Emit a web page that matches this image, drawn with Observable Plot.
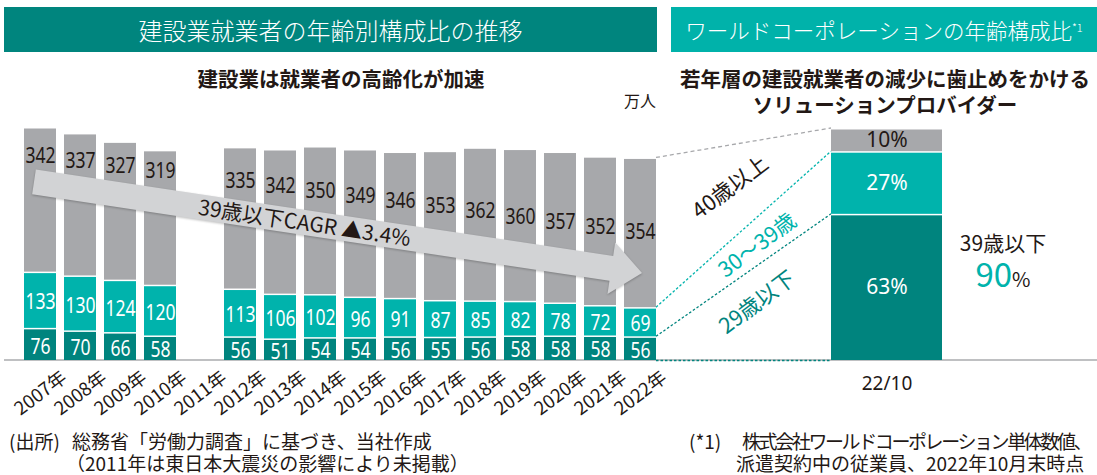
<!DOCTYPE html>
<html><head><meta charset="utf-8">
<script src="https://cdn.jsdelivr.net/npm/d3@7"></script>
<script src="https://cdn.jsdelivr.net/npm/@observablehq/plot@0.6"></script>
<style>
html,body{margin:0;padding:0;background:#fff;}
#root{position:relative;width:1097px;height:475px;overflow:hidden;font-family:"Noto Sans CJK JP","Noto Sans",sans-serif;color:#231815;}
.a{position:absolute;white-space:nowrap;}
.hdr{position:absolute;top:7px;height:45px;color:#fff;display:flex;align-items:center;justify-content:center;white-space:nowrap;font-weight:300;}
svg{overflow:visible;}
</style></head><body><div id="root"></div>
<script>
// ---------- data ----------
const years = ["2007年","2008年","2009年","2010年","2011年","2012年","2013年","2014年","2015年","2016年","2017年","2018年","2019年","2020年","2021年","2022年"];
const under29   = [76, 70, 66, 58, null, 56, 51, 54, 54, 56, 55, 56, 58, 58, 58, 56];
const age30to39 = [133,130,124,120,null,113,106,102,96, 91, 87, 85, 82, 78, 72, 69];
const over40    = [342,337,327,319,null,335,342,350,349,346,353,362,360,357,352,354];
const groups = ["29歳以下","30〜39歳","40歳以上"];
const wcCategory = ["22/10"];
const wcShares = [63, 27, 10];
const wcYoungTotal = 90;
const cagrText = "39歳以下CAGR ▲3.4%";
const unitText = "万人";

// ---------- style ----------
const C_DARK = "#00847E", C_TEAL = "#00B3AC", C_GRAY = "#A7A8AB", C_TEXT = "#231815", C_ARROW = "#D2D3D5";
const colorRange = [C_DARK, C_TEAL, C_GRAY];
const arrowFrom = 421, arrowTo = 206;      // arrow centre line (in 万人 units) at 2007 / 2022
const grayLabelFrom = 485, grayLabelTo = 305; // gray labels run parallel above the arrow

const root = document.getElementById("root");
function div(cls, style, html){const d=document.createElement("div");d.className=cls;d.setAttribute("style",style);d.innerHTML=html;root.appendChild(d);return d;}

// headers & texts
div("hdr","left:4px;width:653px;background:#00857E;font-size:24px;","建設業就業者の年齢別構成比の推移");
div("hdr","left:671px;width:426px;background:#00B2AA;font-size:21.5px;","ワールドコーポレーションの年齢構成比<sup style='font-size:11px;position:relative;top:-3px;'>*1</sup>");
div("a","left:0;width:682px;top:67px;text-align:center;font-size:20.5px;font-weight:700;line-height:22px;","建設業は就業者の高齢化が加速");
div("a","left:673px;width:424px;top:67px;text-align:center;font-size:20.5px;font-weight:700;line-height:22px;","若年層の建設就業者の減少に歯止めをかける");
div("a","left:673px;width:424px;top:92.5px;text-align:center;font-size:20.5px;font-weight:700;line-height:22px;","ソリューションプロバイダー");
div("a","left:624px;top:90px;font-size:16px;line-height:20px;",unitText);
div("a","left:4px;top:359px;width:1093px;height:2px;background:#BFC0C2;","");
div("a","left:9px;top:430.5px;font-size:19px;line-height:20px;","(出所)");
div("a","left:72px;top:430.5px;font-size:19px;line-height:20px;","総務省「労働力調査」に基づき、当社作成");
div("a","left:66px;top:453px;font-size:19px;line-height:20px;","（2011年は東日本大震災の影響により未掲載）");
div("a","left:689px;top:430.5px;font-size:19px;line-height:20px;","(*1)");
div("a","left:742px;top:430.5px;font-size:19px;line-height:20px;letter-spacing:-2.4px;","株式会社ワールドコーポレーション単体数値、");
div("a","left:736px;top:453px;font-size:19px;line-height:20px;","派遣契約中の従業員、2022年10月末時点");
div("a","left:943px;width:120px;top:230px;text-align:center;font-size:21px;line-height:24px;","39歳以下");
div("a","left:943px;width:120px;top:257px;text-align:center;line-height:32px;",`<span style="font-size:33px;color:${C_TEAL};">${wcYoungTotal}</span><span style="font-size:20px;">%</span>`);

// ---------- left chart ----------
const rows = [];
years.forEach((yr,i)=>{
  if (under29[i]==null) return;
  rows.push({year:yr, group:groups[0], value:under29[i], i});
  rows.push({year:yr, group:groups[1], value:age30to39[i], i});
  rows.push({year:yr, group:groups[2], value:over40[i], i});
});
const grayRows = rows.filter(d=>d.group===groups[2]);
const n = years.length - 1;
const numFont = "'Noto Sans', sans-serif";

const left = Plot.plot({
  width: 681, height: 475,
  marginLeft: 11, marginRight: 11, marginTop: 127, marginBottom: 115,
  style: {fontFamily: "'Noto Sans CJK JP', 'Noto Sans', sans-serif", color: C_TEXT, background: "transparent"},
  x: {domain: years, padding: 0.19, label: null},
  y: {domain: [0, 551], axis: null},
  color: {domain: groups, range: colorRange},
  marks: [
    Plot.barY(rows, {x:"year", y:"value", fill:"group", insetTop: 1.5}),
    Plot.text(rows, Plot.stackY({x:"year", y:"value", z:"group", text:"value", fill:"white", fontSize: 22.5,
      fontFamily: numFont, filter: d => d.group !== groups[2], dy: 2})),
    Plot.text(grayRows, {x:"year", y: d => grayLabelFrom + (grayLabelTo-grayLabelFrom)*d.i/n, text:"value",
      fill: C_TEXT, fontSize: 22.5, fontFamily: numFont}),
    Plot.axisX({tickSize: 0, tickRotate: -37, fontSize: 18.5, tickPadding: 15, dx: 24, label: null, fill: C_TEXT})
  ]
});
left.style.position = "absolute"; left.style.left = "0px"; left.style.top = "0px";
root.appendChild(left);

// condense numeric labels (narrow digits as in the reference)
left.querySelectorAll('g[aria-label="text"] text').forEach(t=>{
  const w = t.getComputedTextLength();
  if (w > 0) { t.setAttribute("textLength", (w*0.78).toFixed(2)); t.setAttribute("lengthAdjust","spacingAndGlyphs"); }
});

const lx = left.scale("x"), ly = left.scale("y");
// arrow
{
  const bw = lx.bandwidth;
  const x0 = lx.apply(years[0]) + 10, y0 = ly.apply(arrowFrom);
  const x1 = lx.apply(years[n]) + bw/2 + 2, y1 = ly.apply(arrowTo);
  const dx = x1-x0, dy = y1-y0, L = Math.hypot(dx,dy), ux = dx/L, uy = dy/L, nx = -uy, ny = ux;
  const hl = 31, sh = 12.5, hh = 26;
  const bx = x1-ux*hl, by = y1-uy*hl;
  const pts = [[x0+nx*sh,y0+ny*sh],[bx+nx*sh,by+ny*sh],[bx+nx*hh,by+ny*hh],[x1,y1],[bx-nx*hh,by-ny*hh],[bx-nx*sh,by-ny*sh],[x0-nx*sh,y0-ny*sh]];
  const g = d3.select(left).append("g");
  g.append("polygon").attr("points", pts.map(p=>p.join(",")).join(" ")).attr("fill", C_ARROW)
    .attr("style","filter:drop-shadow(0px 1px 1px rgba(0,0,0,0.25))");
  const t = 0.445, cx = x0+dx*t, cy = y0+dy*t;
  const ang = Math.atan2(dy,dx)*180/Math.PI;
  g.append("text").attr("transform",`translate(${cx},${cy}) rotate(${ang})`).attr("text-anchor","middle")
    .attr("dy","0.38em").attr("font-size",21).attr("fill",C_TEXT)
    .attr("font-family","'Noto Sans CJK JP', sans-serif").text(cagrText);
}

// ---------- right chart ----------
const wcRows = groups.map((g,i)=>({cat: wcCategory[0], group:g, value: wcShares[i]}));
const right = Plot.plot({
  width: 151, height: 475,
  marginLeft: 20, marginRight: 20, marginTop: 128, marginBottom: 115,
  style: {fontFamily: "'Noto Sans CJK JP', 'Noto Sans', sans-serif", color: C_TEXT, background: "transparent"},
  x: {domain: wcCategory, padding: 0, label: null},
  y: {domain: [0, 100], axis: null},
  color: {domain: groups, range: colorRange},
  marks: [
    Plot.barY(wcRows, {x:"cat", y:"value", fill:"group", insetTop: 1.5}),
    Plot.text(wcRows, Plot.stackY({x:"cat", y:"value", z:"group", text: d=>d.value+"%",
      fill: d => d.group===groups[2] ? C_TEXT : "white", fontSize: 21, fontFamily: numFont})),
    Plot.axisX({tickSize: 0, fontSize: 19, tickPadding: 16, label: null, fill: C_TEXT, fontFamily: numFont})
  ]
});
const RIGHT_LEFT = 811;
right.style.position = "absolute"; right.style.left = RIGHT_LEFT+"px"; right.style.top = "0px";
root.appendChild(right);
const rx = right.scale("x"), ry = right.scale("y");

// ---------- connectors & rotated labels ----------
const ov = d3.select(root).append("svg").attr("width",1097).attr("height",475)
  .style("position","absolute").style("left","0px").style("top","0px").style("pointer-events","none");
const Lx = lx.apply(years[n]) + lx.bandwidth, Rx = RIGHT_LEFT + rx.apply(wcCategory[0]);
const cumL = [0, under29[n], under29[n]+age30to39[n], under29[n]+age30to39[n]+over40[n]];
const cumR = [0, wcShares[0], wcShares[0]+wcShares[1], wcShares[0]+wcShares[1]+wcShares[2]];
const conn = [
  {k:3, stroke:C_GRAY, dash:"4,3"},
  {k:2, stroke:C_TEAL, dash:"2.5,2"},
  {k:1, stroke:C_DARK, dash:"2.5,2"},
  {k:0, stroke:C_DARK, dash:"2.5,2"}
];
conn.forEach(c=>{
  ov.append("line").attr("x1",Lx).attr("y1",ly.apply(cumL[c.k])+ (c.k===0?0.5:0)).attr("x2",Rx).attr("y2",ry.apply(cumR[c.k])+(c.k===0?0.5:0))
    .attr("stroke",c.stroke).attr("stroke-width",1.3).attr("stroke-dasharray",c.dash);
});
const rot = [
  {t:"40歳以上", x:730, y:187, fill:C_TEXT},
  {t:"30〜39歳", x:757, y:245, fill:C_TEAL},
  {t:"29歳以下", x:757, y:302, fill:C_DARK}
];
rot.forEach(r=>{
  ov.append("text").attr("transform",`translate(${r.x},${r.y}) rotate(-37)`).attr("text-anchor","middle")
    .attr("dy","0.36em").attr("font-size",21.5).attr("fill",r.fill)
    .attr("font-family","'Noto Sans CJK JP', sans-serif").text(r.t);
});
</script></body></html>
